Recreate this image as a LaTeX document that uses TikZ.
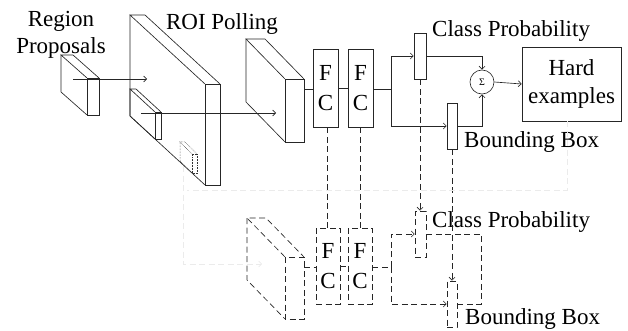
\documentclass[tikz,border=0pt]{standalone}
\usepackage{fontspec}
\setmainfont{Liberation Serif}
\usetikzlibrary{arrows.meta}

% cuboid seen from the front-right: front face at (fx,fy), size w x h,
% receding by (dx,dy) towards the upper left
\newcommand{\slabbox}[7][]{%
  \draw[#1] (#2,#3) rectangle ++(#4,#5);
  \draw[#1] (#2,#3) -- ++(-#6,-#7) -- ++(#4,0) -- ({#2+#4},#3);
  \draw[#1] ({#2-#6},{#3-#7}) -- ++(0,#5) -- (#2,{#3+#5});
}

\tikzset{
  ln/.style={draw=black!85, line width=0.65pt},
  dln/.style={ln, dash pattern=on 6pt off 3.5pt},
  dotln/.style={draw=black!80, line width=0.5pt, densely dotted},
  faint/.style={draw=black!8, line width=0.6pt, dash pattern=on 6pt off 3.5pt},
  arr/.style={-{Straight Barb[length=3pt,width=6pt]}},
  blk/.style={ln, rectangle, inner sep=0pt, align=center, font=\fontsize{23}{30}\selectfont},
  lbl/.style={inner sep=0pt, font=\fontsize{23}{27}\selectfont},
}

\begin{document}
\begin{tikzpicture}[x=1pt, y=-1pt]
\useasboundingbox (0,0) rectangle (628,331);

% ---- feature maps ----
\slabbox[ln]{87}{78}{12}{37}{26}{23}        % region proposal
\slabbox[ln]{205}{84}{15}{101}{75}{69}      % feature map
\slabbox[ln]{155}{112}{6}{27}{25}{23}       % projected region
\slabbox[dotln]{192}{154}{5}{19}{12}{12}    % hard region
\slabbox[ln]{285}{79}{19}{63}{39}{40}       % pooled features
\slabbox[dln]{285}{257}{19}{62}{38}{39}     % pooled features (copy)

\coordinate (p1) at (73,79);
\coordinate (p1e) at (147,79);
\coordinate (p2) at (141,113);
\coordinate (p2e) at (276,113);
\coordinate (pool) at (304,89);
\coordinate (poold) at (304,267);

% ---- labels ----
\node[lbl, align=center] (rp) at (61,35) {Region\\Proposals};
\node[lbl] (roi) at (222,24) {ROI Polling};

% ---- upper branch ----
\node[blk, minimum width=25pt, minimum height=78pt] (fc1) at (325.5,88) {F\\C};
\node[blk, minimum width=25pt, minimum height=78pt] (fc2) at (360.5,88) {F\\C};
\node[ln, rectangle, minimum width=12pt, minimum height=46pt, inner sep=0pt] (cp) at (420,56) {};
\node[ln, rectangle, minimum width=10pt, minimum height=46pt, inner sep=0pt] (bb) at (452,126) {};
\node[ln, circle, minimum size=24pt, inner sep=0pt, font=\fontsize{10}{10}\selectfont] (sig) at (482,82) {Σ};
\node[blk, minimum width=99pt, minimum height=74pt, font=\fontsize{23}{28}\selectfont] (hard) at (571.5,84) {Hard\\examples};
\node[lbl, anchor=west] (cpl) at (432,31) {Class Probability};
\node[lbl, anchor=west] (bbl) at (464,142) {Bounding Box};

% ---- lower branch ----
\node[blk, dln, minimum width=24pt, minimum height=76pt] (fc1d) at (328,266) {F\\C};
\node[blk, dln, minimum width=24pt, minimum height=76pt] (fc2d) at (360,266) {F\\C};
\node[dln, rectangle, minimum width=11pt, minimum height=46pt, inner sep=0pt] (cpd) at (420.5,234) {};
\node[dln, rectangle, minimum width=10pt, minimum height=46pt, inner sep=0pt] (bbd) at (452,304) {};
\node[lbl, anchor=west] (cpdl) at (432,222) {Class Probability};
\node[lbl, anchor=west] (bbdl) at (465,319) {Bounding Box};

% ---- connectors, upper ----
\draw[ln, arr] (p1) -- (p1e);
\draw[ln, arr] (p2) -- (p2e);
\draw[ln] (pool) -- (pool -| fc1.west);
\draw[ln] (fc1.east) -- (fc2.west);
\coordinate (split) at (391,89);
\draw[ln, arr] (fc2.east |- split) -- (split) |- (cp.west);
\draw[ln, arr] (split) |- (bb.west);
\draw[ln, arr] (cp.east) -| (sig.north);
\draw[ln, arr] (bb.east) -| (sig.south);
\draw[ln, arr] (sig.east) -- (hard.west);

% ---- shared weights ----
\draw[dln] (fc1.south -| 327,0) -- (fc1d.north -| 327,0);
\draw[dln] (fc2.south) -- (fc2.south |- fc2d.north);
\draw[dln, arr] (cp.south) -- (cp.south |- cpd.north);
\draw[dln, arr] (bb.south) -- (bb.south |- bbd.north);

% ---- connectors, lower ----
\draw[dln] (poold) -- (poold -| fc1d.west);
\draw[dln] (fc1d.east) -- (fc2d.west);
\coordinate (splitd) at (391,267);
\draw[dln, arr] (fc2d.east |- splitd) -- (splitd) |- (cpd.west);
\draw[dln, arr] (splitd) |- (bbd.west);
\coordinate (loopd) at (481,304);
\draw[dln] (cpd.east) -| (loopd) -- (bbd.east);

% ---- hard example feedback ----
\coordinate (fb) at (567,190);
\draw[faint] (hard.south -| fb) -- (fb) -- (187,190);
\coordinate (hr) at (183,166);
\coordinate (hre) at (262,264);
\draw[faint, arr] (hr) |- (hre);
\end{tikzpicture}
\end{document}
